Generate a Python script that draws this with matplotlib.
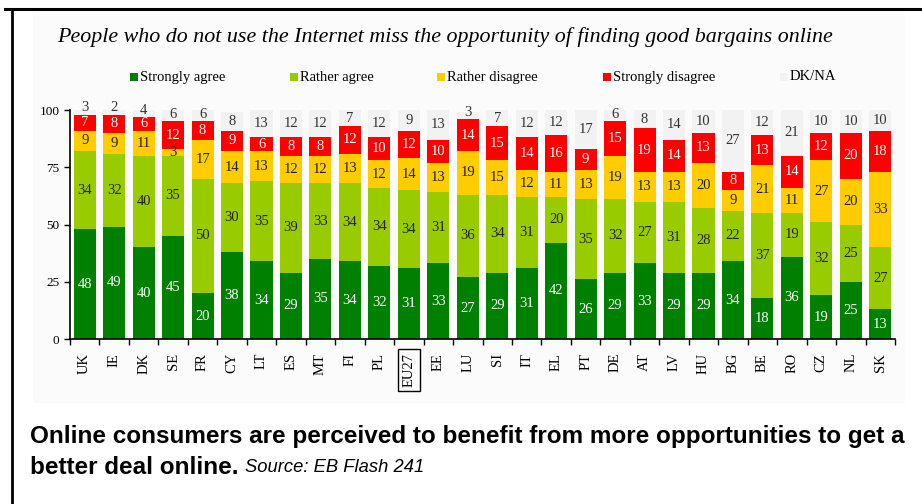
import numpy as np
import matplotlib
matplotlib.use("Agg")
import matplotlib.pyplot as plt
from matplotlib.patches import Rectangle
from matplotlib.lines import Line2D

countries = ["UK", "IE", "DK", "SE", "FR", "CY", "LT", "ES", "MT", "FI", "PL", "EU27", "EE", "LU",
             "SI", "IT", "EL", "PT", "DE", "AT", "LV", "HU", "BG", "BE", "RO", "CZ", "NL", "SK"]
strongly_agree = [48, 49, 40, 45, 20, 38, 34, 29, 35, 34, 32, 31, 33, 27,
                  29, 31, 42, 26, 29, 33, 29, 29, 34, 18, 36, 19, 25, 13]
rather_agree = [34, 32, 40, 35, 50, 30, 35, 39, 33, 34, 34, 34, 31, 36,
                34, 31, 20, 35, 32, 27, 31, 28, 22, 37, 19, 32, 25, 27]
rather_disagree = [9, 9, 11, 3, 17, 14, 13, 12, 12, 13, 12, 14, 13, 19,
                   15, 12, 11, 13, 19, 13, 13, 20, 9, 21, 11, 27, 20, 33]
strongly_disagree = [7, 8, 6, 12, 8, 9, 6, 8, 8, 12, 10, 12, 10, 14,
                     15, 14, 16, 9, 15, 19, 14, 13, 8, 13, 14, 12, 20, 18]
dk_na = [3, 2, 4, 6, 6, 8, 13, 12, 12, 7, 12, 9, 13, 3,
         7, 12, 12, 17, 6, 8, 14, 10, 27, 12, 21, 10, 10, 10]

series = [
    ("Strongly agree", strongly_agree, "#008000", "white"),
    ("Rather agree", rather_agree, "#99cc00", "#222222"),
    ("Rather disagree", rather_disagree, "#ffcc00", "#222222"),
    ("Strongly disagree", strongly_disagree, "#ff0000", "white"),
    ("DK/NA", dk_na, "#f2f2f2", "#333333"),
]

serif = "Liberation Serif"
sans = "Liberation Sans"

fig = plt.figure(figsize=(9.22, 5.04), dpi=100)
fig.patch.set_facecolor("white")

# faint panel behind the chart
fig.patches.append(Rectangle((33 / 922, 1 - 403 / 504), (905 - 33) / 922, (403 - 15) / 504,
                             transform=fig.transFigure, facecolor="#fbfbfb", edgecolor="none", zorder=-10))
# frame lines
fig.lines.append(Line2D([5 / 922, 1], [1 - 8.5 / 504, 1 - 8.5 / 504], transform=fig.transFigure,
                        color="black", lw=2.2))
fig.lines.append(Line2D([11.5 / 922, 11.5 / 922], [0, 1 - 8.5 / 504], transform=fig.transFigure,
                        color="black", lw=2.0))

ax = fig.add_axes([70 / 922, 1 - 339 / 504, (895 - 70) / 922, (339 - 110) / 504])
ax.set_facecolor("none")
ax.set_zorder(5)

x = np.arange(len(countries))
bottom = np.zeros(len(countries))
for name, vals, color, tcolor in series:
    vals = np.array(vals, dtype=float)
    ax.bar(x, vals, bottom=bottom, width=0.75, color=color, edgecolor="none", label=name)
    for i, v in enumerate(vals):
        if name == "DK/NA":
            # centre in the grey part that is left up to 100, pushed up when it is thin
            y = (bottom[i] + min(bottom[i] + v, 100)) / 2
            y = max(y, bottom[i] + 3)
        else:
            y = bottom[i] + v / 2
        ax.text(x[i], y, f"{int(v)}", ha="center", va="center", color=tcolor,
                fontsize=10.5, family=serif, clip_on=False)
    bottom += vals

ax.set_xlim(-0.5, len(countries) - 0.5)
ax.set_ylim(0, 100)
ax.set_yticks([0, 25, 50, 75, 100])
ax.set_xticks(x)
ax.set_xticklabels(countries, rotation=90, family=serif, fontsize=10.5)
ax.set_xticks(np.arange(-0.5, len(countries)), minor=True)
ax.tick_params(axis="x", which="major", length=0, pad=10)
ax.tick_params(axis="x", which="minor", length=4, width=1, direction="out")
ax.tick_params(axis="y", length=4, width=1, direction="out", labelsize=9.5)
for lbl in ax.get_yticklabels():
    lbl.set_family(serif)
for s in ["top", "right"]:
    ax.spines[s].set_visible(False)
for s in ["left", "bottom"]:
    ax.spines[s].set_linewidth(1.2)

eu = ax.get_xticklabels()[countries.index("EU27")]
eu.set_bbox(dict(boxstyle="square,pad=0.3", facecolor="none", edgecolor="black", lw=1))

fig.text(57 / 922, 1 - 37 / 504,
         "People who do not use the Internet miss the opportunity of finding good bargains online",
         family=serif, style="italic", fontsize=15.8, va="center", ha="left")

# legend
legend_x = [130, 290, 437, 603, 780]
for (name, vals, color, tcolor), lx in zip(series, legend_x):
    fig.patches.append(Rectangle((lx / 922, 1 - 81 / 504), 8 / 922, 8 / 504,
                                 transform=fig.transFigure, facecolor=color, edgecolor="none"))
    fig.text((lx + 10) / 922, 1 - 77 / 504, name, family=serif, fontsize=10.5, va="center", ha="left")

fig.text(30 / 922, 1 - 437 / 504,
         "Online consumers are perceived to benefit from more opportunities to get a",
         family=sans, weight="bold", fontsize=17.5, va="center", ha="left")
t = fig.text(30 / 922, 1 - 467 / 504, "better deal online.", family=sans, weight="bold",
             fontsize=17.5, va="center", ha="left")
fig.canvas.draw()
bb = t.get_window_extent()
fig.text(bb.x1 / 922 + 6 / 922, 1 - 468 / 504, "Source: EB Flash 241", family=sans,
         style="italic", fontsize=13.2, va="center", ha="left")

fig.savefig("out.png", dpi=100)
